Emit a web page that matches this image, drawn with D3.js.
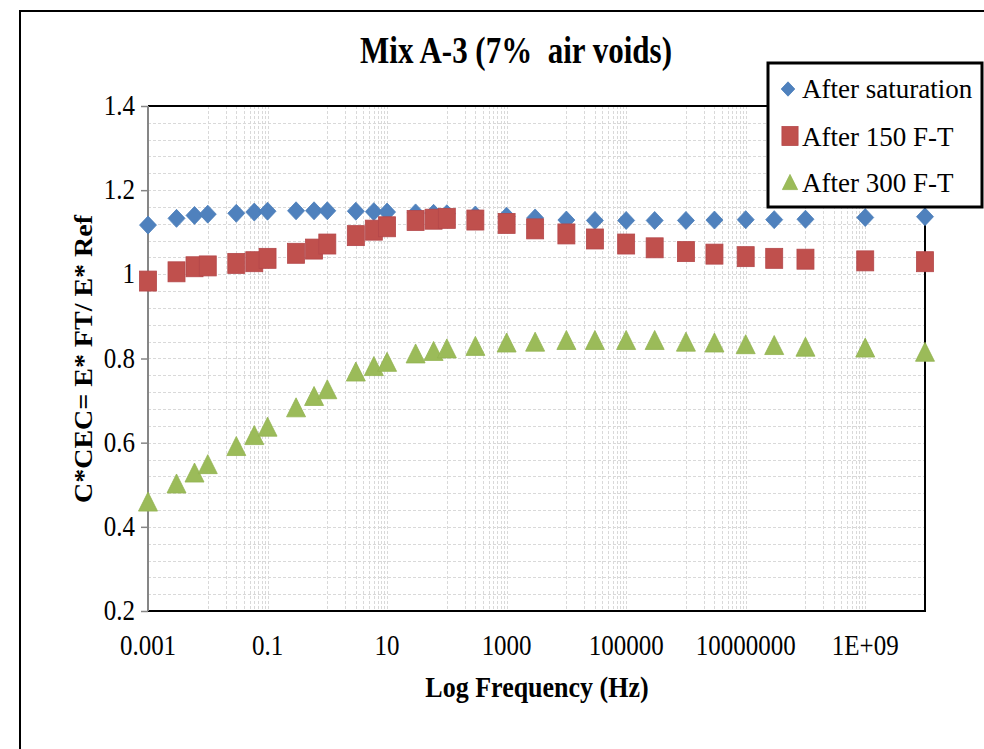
<!DOCTYPE html>
<html>
<head>
<meta charset="utf-8">
<script src="https://cdn.jsdelivr.net/npm/d3@7"></script>
<style>
  html, body { margin: 0; padding: 0; background: #fff; }
  svg { display: block; }
  text { font-family: "Liberation Serif", "Times New Roman", serif; fill: #000; }
</style>
</head>
<body>
<svg id="chart" width="984" height="749"></svg>
<script>
// ---------- data ----------
const frequencies = [0.001, 0.003, 0.006, 0.01, 0.03, 0.06, 0.1, 0.3, 0.6, 1, 3, 6, 10, 30, 60, 100, 300, 1000, 3000, 10000, 30000, 1e5, 3e5, 1e6, 3e6, 1e7, 3e7, 1e8, 1e9, 1e10];
const afterSaturation = [1.117, 1.133, 1.140, 1.143, 1.145, 1.148, 1.150, 1.151, 1.151, 1.151, 1.150, 1.149, 1.148, 1.146, 1.145, 1.144, 1.141, 1.138, 1.134, 1.129, 1.128, 1.128, 1.128, 1.128, 1.129, 1.130, 1.130, 1.131, 1.135, 1.137];
const after150FT = [0.984, 1.006, 1.018, 1.020, 1.026, 1.030, 1.038, 1.050, 1.060, 1.072, 1.092, 1.105, 1.113, 1.128, 1.131, 1.133, 1.129, 1.121, 1.108, 1.096, 1.084, 1.072, 1.063, 1.054, 1.048, 1.042, 1.038, 1.036, 1.032, 1.030];
const after300FT = [0.460, 0.503, 0.529, 0.549, 0.592, 0.618, 0.638, 0.684, 0.711, 0.727, 0.769, 0.782, 0.792, 0.812, 0.818, 0.824, 0.830, 0.838, 0.840, 0.844, 0.844, 0.844, 0.844, 0.840, 0.838, 0.834, 0.832, 0.828, 0.826, 0.816];
const seriesNames = ["After saturation", "After 150 F-T", "After 300 F-T"];
const xTickValues = [1e-3, 1e-1, 1e1, 1e3, 1e5, 1e7, 1e9];
const xTickLabels = ["0.001", "0.1", "10", "1000", "100000", "10000000", "1E+09"];
const yTickValues = [0.2, 0.4, 0.6, 0.8, 1.0, 1.2, 1.4];
const yTickLabels = ["0.2", "0.4", "0.6", "0.8", "1", "1.2", "1.4"];
const titleText = "Mix A-3 (7%\u00A0 air voids)";
const xTitle = "Log Frequency (Hz)";
const yTitle = "C*CEC= E* FT/ E* Ref";

// ---------- layout ----------
const svg = d3.select("#chart");
const L = 148, R = 925, T = 106, B = 611;
const x = d3.scaleLog().domain([1e-3, 1e10]).range([L, R]);
const y = d3.scaleLinear().domain([0.2, 1.4]).range([B, T]);
const colors = ["#4F81BD", "#C0504D", "#9BBB59"];
const strokes = ["#4A7DBA", "#B4474A", "#93B452"];
const S = 1.17; // vertical text stretch as in the reference

function stretchedText(g, tx, ty, str, size, weight, anchor, sy, rotate) {
  const t = g.append("text")
    .attr("transform", `translate(${tx},${ty})` + (rotate ? ` rotate(${rotate})` : "") + ` scale(${rotate ? sy : 1},${rotate ? 1 : sy})`)
    .attr("text-anchor", anchor)
    .style("font-size", size + "px")
    .style("font-weight", weight)
    .text(str);
  return t;
}

// outer chart border
svg.append("rect").attr("x", 20).attr("y", 11).attr("width", 1000).attr("height", 800)
  .attr("fill", "#fff").attr("stroke", "#000").attr("stroke-width", 2);

// ---------- grid ----------
const grid = svg.append("g");
const hGrid = d3.range(0.24, 1.4, 0.04).filter(v => Math.abs(v - 1.4) > 1e-6);
grid.selectAll("line.h").data(hGrid).join("line")
  .attr("x1", L).attr("x2", R)
  .attr("y1", d => Math.round(y(d)) + 0.5).attr("y2", d => Math.round(y(d)) + 0.5)
  .attr("stroke", "#d9d9d9").attr("stroke-width", 1).attr("stroke-dasharray", "3,2");

const vGrid = [];
xTickValues.forEach(v => { if (v > 1e-3) vGrid.push(v); });
[-2, 0, 2, 4, 6, 8].forEach(e => { for (let k = 1; k <= 9; k++) vGrid.push(k * Math.pow(10, e)); });
grid.selectAll("line.v").data(vGrid).join("line")
  .attr("y1", T).attr("y2", B)
  .attr("x1", d => Math.round(x(d)) + 0.5).attr("x2", d => Math.round(x(d)) + 0.5)
  .attr("stroke", "#d9d9d9").attr("stroke-width", 1).attr("stroke-dasharray", "3,2");

// plot border (top, right, bottom black)
svg.append("path").attr("d", `M${L},${T}H${R}V${B}H${L}`)
  .attr("fill", "none").attr("stroke", "#000").attr("stroke-width", 2);

// y axis (gray, with outward ticks)
const yAxis = svg.append("g").attr("transform", `translate(${L},0)`)
  .call(d3.axisLeft(y).tickValues(yTickValues).tickSize(7).tickFormat(""));
yAxis.select(".domain").attr("stroke", "#868686").attr("stroke-width", 2).attr("d", `M0,${T}V${B}`);
yAxis.selectAll(".tick line").attr("stroke", "#868686").attr("stroke-width", 1.5);

const labels = svg.append("g");
yTickValues.forEach((v, i) => stretchedText(labels, 135, y(v) + 9, yTickLabels[i], 25, "normal", "end", S));
xTickValues.forEach((v, i) => stretchedText(labels, x(v), 655, xTickLabels[i], 25, "normal", "middle", S));

// titles
stretchedText(labels, 516, 63, titleText, 31, "bold", "middle", 1.2);
stretchedText(labels, 537, 697, xTitle, 26, "bold", "middle", S);
stretchedText(labels, 92, 359, yTitle, 25, "bold", "middle", 1.12, -90);

// ---------- markers ----------
const marks = svg.append("g");
const allSeries = [afterSaturation, after150FT, after300FT];
function drawMarker(g, type, cx, cy, i, scale) {
  const s = scale || 1;
  if (type === 0) {
    const w = 8.5 * s, h = 9 * s;
    g.append("path").attr("d", `M${cx},${cy - h}L${cx + w},${cy}L${cx},${cy + h}L${cx - w},${cy}Z`)
      .attr("fill", colors[i]).attr("stroke", strokes[i]).attr("stroke-width", 0.8);
  } else if (type === 1) {
    const w = 8.5 * s, h = 10 * s;
    g.append("rect").attr("x", cx - w).attr("y", cy - h).attr("width", 2 * w).attr("height", 2 * h)
      .attr("fill", colors[i]).attr("stroke", strokes[i]).attr("stroke-width", 0.8);
  } else {
    const w = 9.5 * s, h = 9.5 * s;
    g.append("path").attr("d", `M${cx},${cy - h}L${cx + w},${cy + h}L${cx - w},${cy + h}Z`)
      .attr("fill", colors[i]).attr("stroke", strokes[i]).attr("stroke-width", 0.8);
  }
}
allSeries.forEach((vals, i) => {
  const g = marks.append("g");
  vals.forEach((v, j) => drawMarker(g, i, x(frequencies[j]), y(v), i));
});

// ---------- legend ----------
const lg = svg.append("g");
lg.append("rect").attr("x", 768).attr("y", 63).attr("width", 214).attr("height", 144)
  .attr("fill", "#fff").attr("stroke", "#000").attr("stroke-width", 3);
const rowY = [98, 146, 192];
seriesNames.forEach((name, i) => {
  const cy = rowY[i] - 9;
  if (i === 0) drawMarker(lg, 0, 788, cy, 0, 0.8);
  if (i === 1) drawMarker(lg, 1, 790, cy - 1, 1, 0.95);
  if (i === 2) drawMarker(lg, 2, 790, cy - 1, 2, 0.8);
  lg.append("text").attr("x", 802).attr("y", rowY[i]).style("font-size", "27px").text(name);
});
</script>
</body>
</html>
